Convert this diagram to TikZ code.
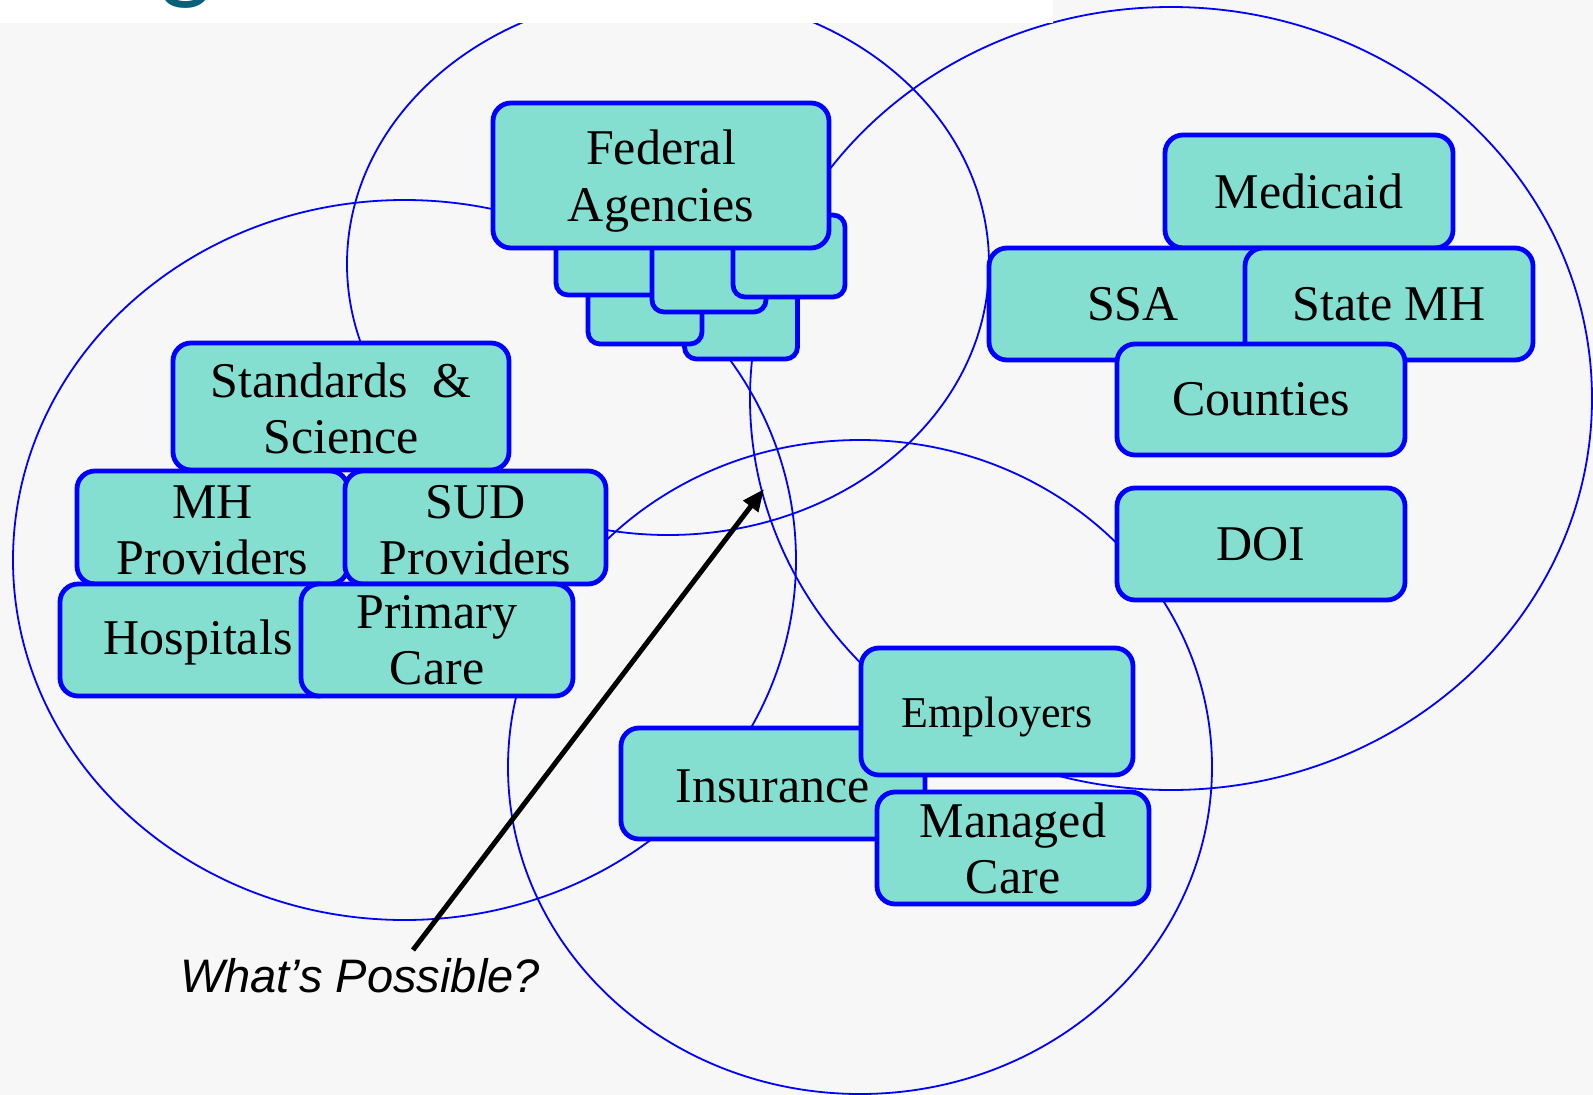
\documentclass[tikz,border=0pt]{standalone}
\usepackage{fontspec}
\setmainfont{Liberation Serif}
\newfontfamily\calloutfont{Liberation Sans}
\newfontfamily\headfont{Carlito}
\usetikzlibrary{arrows.meta}

\definecolor{boxfill}{RGB}{133,223,208}
\definecolor{boxline}{RGB}{0,0,255}
\definecolor{ringline}{RGB}{0,0,255}
\definecolor{paper}{RGB}{247,247,247}
\definecolor{headteal}{RGB}{10,96,120}

\begin{document}
\begin{tikzpicture}[x=1pt,y=-1pt,
  ring/.style={draw=ringline, line width=1.8pt},
  box/.style={draw=boxline, fill=boxfill, line width=4.8pt,
    rounded corners=18pt, inner sep=0pt, align=center,
    font=\fontsize{50}{56}\selectfont},
  tile/.style={box, rounded corners=12pt, minimum width=113pt, minimum height=82pt},
  pointer/.style={draw=black, line width=5pt,
    -{Triangle[length=22pt,width=18pt]}},
]
\useasboundingbox (0,0) rectangle (1593,1095);
\clip (0,0) rectangle (1593,1095);

% page background
\fill[paper] (0,0) rectangle (1593,1095);

% the four overlapping domains
\draw[ring] (404.5,560) ellipse [x radius=391.5pt, y radius=360pt];
\draw[ring] (668,264) ellipse [x radius=321pt, y radius=271pt];
\draw[ring] (1171,398.5) ellipse [x radius=421pt, y radius=391.5pt];
\draw[ring] (860,767) ellipse [x radius=352pt, y radius=327pt];

% heading strip
\fill[white] (0,0) rectangle (1053,23);
\begin{scope}
  \clip (0,0) rectangle (1053,23);
  \node[anchor=base, text=headteal, inner sep=0pt,
        font=\headfont\fontsize{110}{110}\selectfont] (headg) at (186,-11) {g};
\end{scope}

% federal agencies and the stack behind them
\node[tile] (fedE) at (741,318) {};
\node[tile, minimum width=114pt] (fedB) at (645,303) {};
\node[tile] (fedA) at (612.5,254) {};
\node[tile, minimum width=114pt] (fedC) at (709,271) {};
\node[tile, minimum width=112pt] (fedD) at (789,256) {};
\node[box, minimum width=336pt, minimum height=145pt] (federal) at (661,175.5)
  {\rule{0pt}{46pt}Federal\\[1pt]Agencies};

% providers
\node[box, minimum width=336pt, minimum height=127pt] (standards) at (341,406.5) {\rule{0pt}{38pt}Standards~\ \&\\Science};
\node[box, minimum width=271pt, minimum height=113pt] (mh) at (212.5,527.5) {\rule{0pt}{38pt}MH\\Providers};
\node[box, minimum width=261pt, minimum height=113pt] (sud) at (475.5,527.5) {\rule{0pt}{38pt}SUD\\Providers};
\node[box, minimum width=276pt, minimum height=112pt] (hospitals) at (198,640) {\rule{0pt}{40pt}Hospitals};
\node[box, minimum width=272pt, minimum height=112pt] (primary) at (437,640) {Primary\\Care};

% state and county
\node[box, minimum width=288pt, minimum height=113pt] (medicaid) at (1309,191.5) {Medicaid};
\node[box, minimum width=288pt, minimum height=112pt] (ssa) at (1133,304) {SSA};
\node[box, minimum width=288pt, minimum height=112pt] (statemh) at (1389,304) {State MH};
\node[box, minimum width=288pt, minimum height=111pt] (counties) at (1261,399.5) {Counties};
\node[box, minimum width=288pt, minimum height=112pt] (doi) at (1261,544) {DOI};

% payers
\node[box, minimum width=304pt, minimum height=111pt] (insurance) at (773,783.5) {\rule{0pt}{38pt}Insurance};
\node[box, minimum width=272pt, minimum height=127pt,
      font=\fontsize{44}{50}\selectfont] (employers) at (997,711.5) {\rule{0pt}{42pt}Employers};
\node[box, minimum width=272pt, minimum height=112pt] (managed) at (1013,848) {Managed\\Care};

% callout
\node[anchor=base, inner sep=0pt,
      font=\calloutfont\itshape\fontsize{47}{50}\selectfont] (ask) at (360,992) {What’s Possible?};
\coordinate (askTail) at (413,950);
\coordinate (askTip) at (764,489);
\draw[pointer] (askTail) -- (askTip);
\end{tikzpicture}
\end{document}
